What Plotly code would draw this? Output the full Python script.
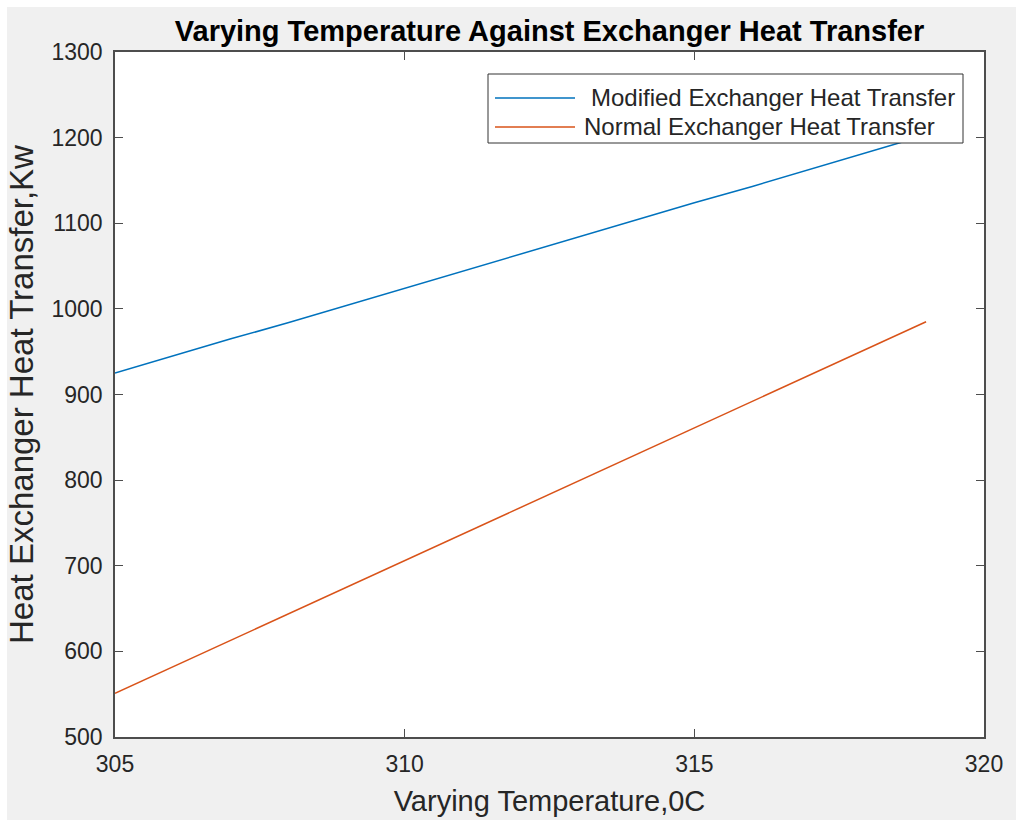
import plotly.graph_objects as go

# Temperature sweep, degrees C
temperature = [305, 306, 307, 308, 309, 310, 311, 312, 313, 314, 315, 316, 317, 318, 319]

# Heat transferred by each exchanger, kW
modified_heat = [925, 945, 965, 984, 1004, 1024, 1044, 1064, 1084, 1104, 1124, 1143, 1163, 1183, 1203]
normal_heat = [551, 582, 613, 644, 675, 706, 737, 768, 799, 830, 861, 892, 923, 954, 985]

series_names = ["Modified Exchanger Heat Transfer", "Normal Exchanger Heat Transfer"]
series_colors = ["#0072BD", "#D95319"]

x_ticks = [305, 310, 315, 320]
y_ticks = [500, 600, 700, 800, 900, 1000, 1100, 1200, 1300]

FONT = "Liberation Sans, Arial, sans-serif"
TEXT = "#262626"
AXIS = "#4d4d4d"

# plot-area geometry in pixels
W, H = 1016, 823
L, R, T, B = 115, 32, 52, 86
PW, PH = W - L - R, H - T - B


def px(x):
    return (x - L) / PW


def py(y):
    return (H - B - y) / PH


fig = go.Figure()
for yvals, name, color in zip([modified_heat, normal_heat], series_names, series_colors):
    fig.add_trace(go.Scatter(
        x=temperature, y=yvals, mode="lines", name=name,
        line=dict(color=color, width=1.5), showlegend=False,
    ))

axis_common = dict(
    showgrid=False, zeroline=False,
    showline=True, linecolor=AXIS, linewidth=1.5, mirror="ticks",
    ticks="inside", ticklen=8, tickwidth=1, tickcolor=AXIS,
    tickfont=dict(family=FONT, size=23, color=TEXT),
)

fig.update_layout(
    width=W, height=H,
    margin=dict(l=L, r=R, t=T, b=B),
    paper_bgcolor="#f0f0f0", plot_bgcolor="white",
    title=dict(
        text="<b>Varying Temperature Against Exchanger Heat Transfer</b>",
        x=0.5, xref="paper", xanchor="center",
        y=1 - 31 / H, yanchor="middle",
        font=dict(family=FONT, size=29, color="black"),
    ),
    xaxis=dict(
        range=[305, 320], tickvals=x_ticks,
        title=dict(text="Varying Temperature,0C", standoff=14,
                   font=dict(family=FONT, size=29, color=TEXT)),
        ticklabelstandoff=6,
        **axis_common,
    ),
    yaxis=dict(
        range=[500, 1300], tickvals=y_ticks,
        title=dict(text="Heat Exchanger Heat Transfer,Kw", standoff=8,
                   font=dict(family=FONT, size=33, color=TEXT)),
        ticklabelstandoff=6,
        **axis_common,
    ),
    showlegend=False,
)

# thin white frame around the grey figure background
for x0, x1, y0, y1 in [
    (-0.2, 1.2, py(7), 1.2),
    (-0.2, px(7), -0.2, 1.2),
    (-0.2, 1.2, -0.2, py(820)),
]:
    fig.add_shape(type="rect", xref="paper", yref="paper",
                  x0=x0, x1=x1, y0=y0, y1=y1,
                  fillcolor="white", line=dict(width=0), layer="below")

# legend box drawn over the lines
fig.add_shape(type="rect", xref="paper", yref="paper",
              x0=px(488), x1=px(963), y0=py(143), y1=py(74),
              fillcolor="white", line=dict(color="#333333", width=1), layer="above")
legend_rows = [(98, 590), (127, 583)]
for (row_y, text_x), name, color in zip(legend_rows, series_names, series_colors):
    fig.add_shape(type="line", xref="paper", yref="paper",
                  x0=px(495), x1=px(575), y0=py(row_y), y1=py(row_y),
                  line=dict(color=color, width=1.5), layer="above")
    fig.add_annotation(xref="paper", yref="paper", x=px(text_x), y=py(row_y),
                       xanchor="left", yanchor="middle", showarrow=False,
                       text=name, borderpad=0,
                       font=dict(family=FONT, size=24, color=TEXT))

fig.write_html("out.html")
